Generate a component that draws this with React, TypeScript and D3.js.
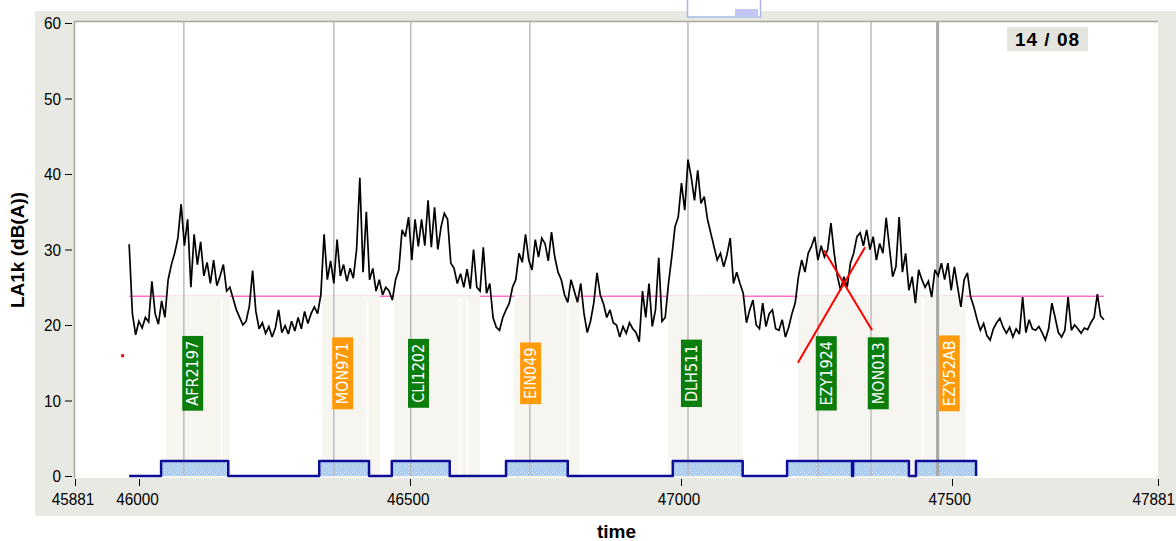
import { useEffect, useRef } from 'react';
import * as d3 from 'd3';

const width = 1176;
const height = 541;
const plotLeft = 75;
const plotRight = 1158;
const plotTop = 22;
const plotBottom = 478;

// axis
const xTicks = [45881, 46000, 46500, 47000, 47500, 47881];
const yTicks = [0, 10, 20, 30, 40, 50, 60];

// LA1k trace, one value every levelStep seconds from levelStart
const levelStart = 45981;
const levelStep = 6;
const levels = [
  30.7, 21.5, 18.7, 20.5, 19.6, 21.0, 20.4, 25.8, 21.5, 20.1,
  23.2, 21.0, 26.0, 28.0, 29.5, 31.5, 36.0, 30.5, 34.0, 25.0,
  32.0, 28.0, 31.0, 26.5, 28.3, 25.5, 28.6, 25.2, 26.5, 28.0,
  24.5, 25.0, 23.5, 22.0, 21.0, 20.0, 20.5, 22.5, 27.2, 21.8,
  19.5, 20.3, 18.9, 19.8, 18.4, 19.6, 22.0, 19.0, 19.9, 18.8,
  20.5, 19.2, 21.0, 19.5, 21.8, 20.2, 21.5, 22.4, 21.5, 24.0,
  32.0, 26.0, 28.5, 25.5, 31.3, 26.5, 28.0, 25.8, 27.5, 26.2,
  30.0, 39.5, 27.0, 35.0, 26.0, 27.5, 24.5, 26.0, 24.0, 25.0,
  24.5, 23.3, 26.0, 27.3, 32.6, 31.7, 34.3, 28.6, 34.0, 30.4,
  34.0, 30.5, 36.5, 30.3, 35.6, 30.0, 33.0, 34.8, 34.0, 28.2,
  27.5, 25.5, 26.8, 25.0, 27.4, 24.8, 30.0, 25.0, 24.5, 30.3,
  24.2, 25.5, 21.0, 19.7, 19.3, 21.0, 22.0, 22.9, 25.0, 26.0,
  29.5, 28.3, 32.0, 28.6, 27.3, 31.3, 29.0, 31.5, 30.8, 28.5,
  32.3, 29.0, 27.0, 26.0, 24.0, 23.0, 26.0, 24.5, 23.0, 25.5,
  21.5, 19.0, 20.5, 22.9, 26.9, 24.0, 22.8, 21.0, 22.0, 20.3,
  20.0, 18.4, 19.8, 18.9, 20.3, 19.5, 19.0, 17.8, 24.5, 21.0,
  25.5, 19.8, 22.0, 28.9, 20.5, 21.0, 25.5, 29.0, 33.0, 34.3,
  38.8, 35.2, 41.9, 39.6, 36.5, 40.5, 36.1, 37.0, 34.0, 32.2,
  30.4, 28.6, 29.5, 27.7, 29.3, 31.5, 25.5, 27.0, 25.5, 24.2,
  20.3, 22.0, 23.3, 20.0, 19.5, 22.9, 19.8, 21.5, 22.0, 19.5,
  19.3, 20.7, 18.4, 19.7, 21.5, 22.9, 26.4, 28.6, 27.0, 29.5,
  30.4, 31.7, 28.6, 30.5, 29.0, 30.0, 33.5, 29.5, 26.4, 24.6,
  26.4, 25.0, 28.2, 29.5, 31.7, 32.2, 30.5, 32.6, 30.0, 31.7,
  28.6, 30.8, 29.5, 34.2, 30.3, 26.4, 27.7, 34.3, 27.0, 29.5,
  24.6, 26.4, 22.9, 27.3, 26.0, 25.0, 25.8, 23.7, 27.3, 26.5,
  28.2, 26.0, 28.2, 24.6, 27.7, 25.0, 22.4, 26.0, 26.9, 23.7,
  22.4, 20.7, 19.3, 20.2, 18.6, 18.0, 19.5, 20.3, 20.9, 19.7,
  18.9, 19.7, 18.4, 19.5, 18.8, 23.7, 19.0, 20.7, 19.5, 19.3,
  19.8, 19.0, 18.0, 19.5, 22.9, 21.0, 19.0, 18.4, 19.3, 23.7,
  19.3, 20.0, 19.5, 18.9, 19.6, 19.4, 20.3, 21.0, 24.1, 21.2,
  20.7,
];

const backgroundLevel = 23.8;

// flight events
const eventTimes = [46082, 46359, 46501, 46721, 47013, 47253, 47351, 47474];
const eventNames = ['AFR2197', 'MON971', 'CLI1202', 'EIN049', 'DLH511', 'EZY1924', 'MON013', 'EZY52AB'];
const eventKinds = ['A', 'D', 'A', 'D', 'A', 'A', 'A', 'D'];
const labelTimes = [46079, 46356, 46496, 46703, 47000, 47249, 47345, 47476];
const selectedEvent = 7;

// shaded event windows and the faint gaps inside them
const bandStarts = [46049, 46337, 46470, 46692, 46976, 47216];
const bandEnds = [46167, 46444, 46629, 46813, 47114, 47526];
const gapStarts = [46149, 46418, 46588, 46603, 46788, 47443];
const gapEnds = [46154, 46424, 46596, 46607, 46793, 47450];

// detection blocks
const detectFrom = 45981;
const detectTo = 47545;
const detectStarts = [46040, 46332, 46466, 46677, 46985, 47196, 47318, 47434];
const detectEnds = [46164, 46424, 46573, 46791, 47114, 47316, 47421, 47545];
const detectHigh = 2;

// red marks
const crossA = [[47216, 15.0], [47340, 30.3]];
const crossB = [[47264, 29.9], [47353, 19.3]];
const strayPoint = [45968, 16.0];

const labelLevel = 13.6;
const dateText = '14 / 08';

const App = () => {
  const svgRef = useRef(null);

  useEffect(() => {
    const svg = d3.select(svgRef.current);
    svg.selectAll('*').remove();

    const x = d3.scaleLinear().domain([45881, 47881]).range([plotLeft, plotRight]);
    const y = d3.scaleLinear().domain([0, 60]).range([476, 23]);

    const defs = svg.append('defs');
    const pat = defs
      .append('pattern')
      .attr('id', 'dots')
      .attr('patternUnits', 'userSpaceOnUse')
      .attr('width', 4)
      .attr('height', 4);
    pat.append('rect').attr('width', 4).attr('height', 4).attr('fill', '#aacdf2');
    pat.append('rect').attr('x', 0).attr('y', 0).attr('width', 1).attr('height', 1).attr('fill', '#dbeafb');
    pat.append('rect').attr('x', 2).attr('y', 2).attr('width', 1).attr('height', 1).attr('fill', '#dbeafb');

    // panel
    svg.append('rect').attr('x', 35).attr('y', 11).attr('width', width - 35).attr('height', 505).attr('fill', '#e9e9e3');
    svg
      .append('rect')
      .attr('x', plotLeft)
      .attr('y', plotTop)
      .attr('width', plotRight - plotLeft)
      .attr('height', plotBottom - plotTop)
      .attr('fill', '#fff');
    svg
      .append('path')
      .attr('d', `M${plotLeft - 0.5},${plotBottom}V${plotTop - 0.5}H${plotRight}`)
      .attr('fill', 'none')
      .attr('stroke', '#aca899')
      .attr('stroke-width', 1.5);

    const levelEnd = levelStart + (levels.length - 1) * levelStep;

    // background level
    svg
      .append('line')
      .attr('x1', x(levelStart))
      .attr('x2', x(levelEnd))
      .attr('y1', y(backgroundLevel))
      .attr('y2', y(backgroundLevel))
      .attr('stroke', '#ff70d0')
      .attr('stroke-width', 1.5);

    // event windows
    svg
      .append('g')
      .selectAll('rect')
      .data(bandStarts)
      .join('rect')
      .attr('x', (d) => x(d))
      .attr('width', (d, i) => x(bandEnds[i]) - x(d))
      .attr('y', y(backgroundLevel) - 1)
      .attr('height', plotBottom - y(backgroundLevel) + 1)
      .attr('fill', '#f7f5f0');
    svg
      .append('g')
      .selectAll('rect')
      .data(gapStarts)
      .join('rect')
      .attr('x', (d) => x(d))
      .attr('width', (d, i) => x(gapEnds[i]) - x(d))
      .attr('y', y(backgroundLevel) + 2)
      .attr('height', plotBottom - y(backgroundLevel) - 2)
      .attr('fill', '#fcfbf9');

    // detection fill
    svg
      .append('g')
      .selectAll('rect')
      .data(detectStarts)
      .join('rect')
      .attr('x', (d) => x(d))
      .attr('width', (d, i) => x(detectEnds[i]) - x(d))
      .attr('y', y(detectHigh))
      .attr('height', y(0) - y(detectHigh))
      .attr('fill', 'url(#dots)');

    // event lines
    svg
      .append('g')
      .selectAll('line')
      .data(eventTimes)
      .join('line')
      .attr('x1', (d) => x(d))
      .attr('x2', (d) => x(d))
      .attr('y1', plotTop)
      .attr('y2', y(0))
      .attr('stroke', (d, i) => (i === selectedEvent ? '#a8a8a8' : '#bcbcbc'))
      .attr('stroke-width', (d, i) => (i === selectedEvent ? 3 : 1.5));

    // noise trace
    const line = d3
      .line()
      .x((d, i) => x(levelStart + i * levelStep))
      .y((d) => y(d));
    svg
      .append('path')
      .attr('d', line(levels))
      .attr('fill', 'none')
      .attr('stroke', '#000')
      .attr('stroke-width', 1.7)
      .attr('stroke-linejoin', 'miter')
      .attr('stroke-miterlimit', 3);

    // detection step line
    const stepPts = [[detectFrom, 0]];
    detectStarts.forEach((s, i) => {
      stepPts.push([s, 0], [s, detectHigh], [detectEnds[i], detectHigh], [detectEnds[i], 0]);
    });
    stepPts.push([detectTo, 0]);
    svg
      .append('path')
      .attr('d', d3.line().x((d) => x(d[0])).y((d) => y(d[1]))(stepPts))
      .attr('fill', 'none')
      .attr('stroke', '#0c0c96')
      .attr('stroke-width', 2.5)
      .attr('stroke-linejoin', 'round');

    // flight labels
    const lab = svg
      .append('g')
      .selectAll('g')
      .data(eventNames)
      .join('g')
      .attr('transform', (d, i) => `translate(${x(labelTimes[i])},${y(labelLevel)})`);
    const rects = lab
      .append('rect')
      .attr('fill', (d, i) => (eventKinds[i] === 'A' ? '#0b7d0b' : '#ff9a08'));
    const texts = lab
      .append('text')
      .attr('transform', 'translate(16,0) rotate(-90)')
      .attr('text-anchor', 'middle')
      .attr('fill', '#fff')
      .style('font-family', '"DejaVu Sans Condensed", "DejaVu Sans", sans-serif')
      .style('font-size', '16px')
      .text((d) => d);
    texts.each(function (d, i) {
      const len = (this as SVGTextElement).getComputedTextLength();
      const h = len + 10;
      d3.select(rects.nodes()[i])
        .attr('x', 0)
        .attr('width', 21)
        .attr('y', -h / 2)
        .attr('height', h);
    });

    // red cross
    [crossA, crossB].forEach((seg) => {
      svg
        .append('line')
        .attr('x1', x(seg[0][0]))
        .attr('y1', y(seg[0][1]))
        .attr('x2', x(seg[1][0]))
        .attr('y2', y(seg[1][1]))
        .attr('stroke', '#ff0000')
        .attr('stroke-width', 2);
    });
    svg
      .append('rect')
      .attr('x', x(strayPoint[0]) - 1)
      .attr('y', y(strayPoint[1]) - 1)
      .attr('width', 3)
      .attr('height', 3)
      .attr('fill', '#ff0000');

    const tickFont = 'Arial, "Liberation Sans", sans-serif';

    // y axis
    const yg = svg.append('g');
    yg.selectAll('line')
      .data(yTicks)
      .join('line')
      .attr('x1', 65)
      .attr('x2', 72)
      .attr('y1', (d) => y(d) + 0.5)
      .attr('y2', (d) => y(d) + 0.5)
      .attr('stroke', '#000');
    yg.selectAll('text')
      .data(yTicks)
      .join('text')
      .attr('transform', (d) => `translate(61,${y(d) + 6}) scale(0.9,1)`)
      .attr('text-anchor', 'end')
      .style('font-family', tickFont)
      .style('font-size', '17px')
      .text((d) => d);

    // x axis
    const xg = svg.append('g');
    xg.selectAll('line')
      .data(xTicks)
      .join('line')
      .attr('x1', (d) => Math.round(x(d)) + 0.5)
      .attr('x2', (d) => Math.round(x(d)) + 0.5)
      .attr('y1', 479)
      .attr('y2', 486)
      .attr('stroke', '#000');
    xg.selectAll('text')
      .data(xTicks)
      .join('text')
      .attr('transform', (d, i) =>
        i === xTicks.length - 1
          ? `translate(1175,505) scale(0.9,1)`
          : `translate(${x(d) - 2},505) scale(0.9,1)`
      )
      .attr('text-anchor', (d, i) => (i === xTicks.length - 1 ? 'end' : 'middle'))
      .style('font-family', tickFont)
      .style('font-size', '17px')
      .text((d) => d);

    // titles
    svg
      .append('text')
      .attr('transform', `translate(24,${(plotTop + plotBottom) / 2}) rotate(-90)`)
      .attr('text-anchor', 'middle')
      .style('font-family', 'Arial, "Liberation Sans", sans-serif')
      .style('font-weight', 'bold')
      .style('font-size', '19px')
      .text('LA1k (dB(A))');
    svg
      .append('text')
      .attr('x', (plotLeft + plotRight) / 2)
      .attr('y', 538)
      .attr('text-anchor', 'middle')
      .style('font-family', 'Arial, "Liberation Sans", sans-serif')
      .style('font-weight', 'bold')
      .style('font-size', '19px')
      .text('time');

    // date badge
    svg.append('rect').attr('x', 1007).attr('y', 27).attr('width', 81).attr('height', 24).attr('fill', '#e4e4de');
    svg
      .append('text')
      .attr('x', 1047.5)
      .attr('y', 46)
      .attr('text-anchor', 'middle')
      .style('font-family', 'Arial, "Liberation Sans", sans-serif')
      .style('font-weight', 'bold')
      .style('font-size', '19px')
      .style('letter-spacing', '1px')
      .text(dateText);

    // clipped legend box at the top
    svg
      .append('rect')
      .attr('x', 687.5)
      .attr('y', -4)
      .attr('width', 73)
      .attr('height', 21)
      .attr('fill', '#fff')
      .attr('stroke', '#a9b9e6')
      .attr('stroke-width', 1.5);
    svg.append('rect').attr('x', 735).attr('y', 9).attr('width', 23).attr('height', 7).attr('fill', '#c4c4f7');
  }, []);

  return (
    <svg
      ref={svgRef}
      width={width}
      height={height}
      viewBox={`0 0 ${width} ${height}`}
      style={{ position: 'absolute', left: 0, top: 0, background: '#fff' }}
    />
  );
};

export default App;
